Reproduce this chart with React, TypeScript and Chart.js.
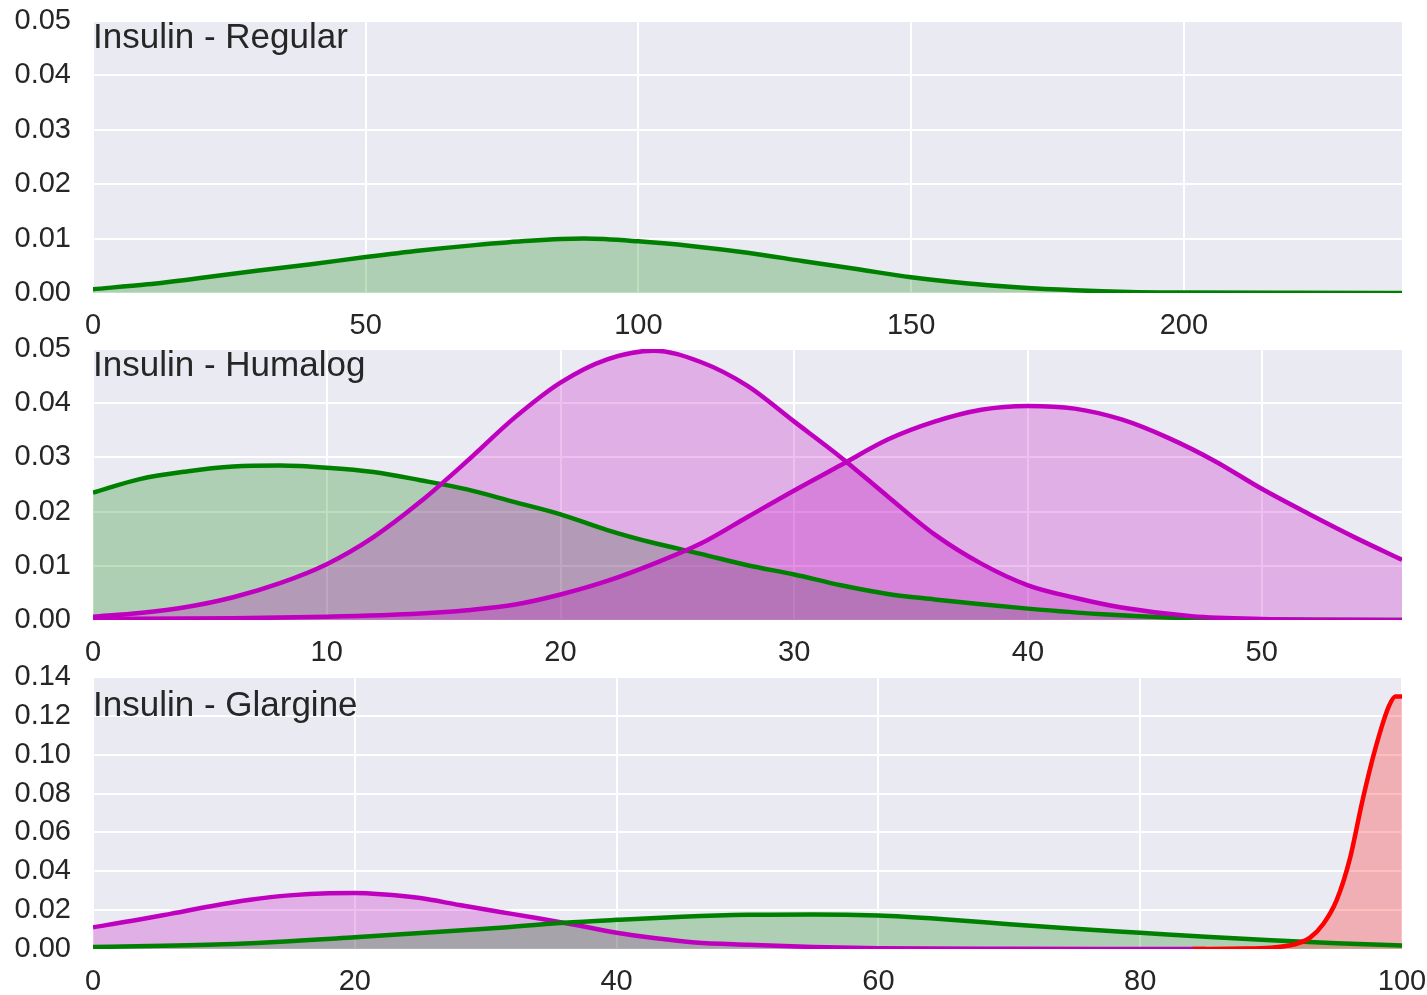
import React, { useEffect, useRef } from "react";
import { Chart, registerables } from "chart.js";

Chart.register(...registerables);

// ---------- DATA ----------
// Panel 1: Insulin - Regular
const regularTitle = "Insulin - Regular";
const regularXTicks = [0, 50, 100, 150, 200];
const regularYTicks = [0, 0.01, 0.02, 0.03, 0.04, 0.05];
const regularGreenX = [0, 10, 20, 30, 40, 50, 60, 70, 80, 90, 100, 110, 120, 130, 140, 150, 160, 170, 180, 190, 200, 220, 240];
const regularGreenY = [0.0007, 0.0016, 0.0028, 0.0041, 0.0053, 0.0066, 0.0078, 0.0088, 0.0096, 0.01, 0.0095, 0.0086, 0.0074, 0.0059, 0.0044, 0.0029, 0.0018, 0.001, 0.0005, 0.0002, 0.0001, 0.00003, 0.00001];

// Panel 2: Insulin - Humalog
const humalogTitle = "Insulin - Humalog";
const humalogXTicks = [0, 10, 20, 30, 40, 50];
const humalogYTicks = [0, 0.01, 0.02, 0.03, 0.04, 0.05];
const humalogGreenX = [0, 2, 4, 6, 8, 10, 12, 14, 16, 18, 20, 22, 24, 26, 28, 30, 32, 34, 36, 38, 40, 43, 47, 50, 56];
const humalogGreenY = [0.0235, 0.026, 0.0274, 0.0283, 0.0285, 0.0281, 0.0273, 0.0258, 0.0241, 0.0218, 0.0195, 0.0166, 0.0142, 0.0122, 0.0101, 0.0084, 0.0064, 0.0048, 0.0038, 0.0029, 0.0021, 0.0011, 0.0003, 0.0001, 0];
const humalogMagentaAX = [0, 2, 4, 6, 8, 10, 12, 14, 16, 18, 20, 22, 24, 26, 28, 30, 32, 34, 36, 38, 40, 42, 44, 47, 50, 56];
const humalogMagentaAY = [0.0006, 0.0013, 0.0024, 0.0042, 0.0068, 0.0103, 0.0153, 0.0218, 0.0293, 0.0372, 0.0438, 0.0481, 0.0497, 0.0476, 0.0432, 0.0366, 0.03, 0.0228, 0.0158, 0.0104, 0.0064, 0.0041, 0.0023, 0.0007, 0.0002, 0];
const humalogMagentaBX = [0, 6, 10, 14, 16, 18, 20, 22, 24, 26, 28, 30, 32, 34, 36, 38, 40, 42, 44, 46, 48, 50, 52, 54, 56];
const humalogMagentaBY = [0.0002, 0.0003, 0.0006, 0.0012, 0.0018, 0.0028, 0.0047, 0.0072, 0.0104, 0.0141, 0.019, 0.0239, 0.0286, 0.0333, 0.0366, 0.0388, 0.0395, 0.039, 0.037, 0.0336, 0.0293, 0.0242, 0.0196, 0.0152, 0.0111];

// Panel 3: Insulin - Glargine
const glargineTitle = "Insulin - Glargine";
const glargineXTicks = [0, 20, 40, 60, 80, 100];
const glargineYTicks = [0, 0.02, 0.04, 0.06, 0.08, 0.1, 0.12, 0.14];
const glargineMagentaX = [0, 3, 6, 9, 12, 15, 18, 20, 22, 25, 28, 31, 34, 37, 40, 43, 46, 50, 55, 60, 70, 85];
const glargineMagentaY = [0.0112, 0.0145, 0.0182, 0.022, 0.0253, 0.0276, 0.0287, 0.0288, 0.0282, 0.0262, 0.0226, 0.0192, 0.0158, 0.0122, 0.0084, 0.0055, 0.0034, 0.0022, 0.001, 0.0004, 0.0001, 0];
const glargineGreenX = [0, 10, 20, 30, 36, 40, 45, 50, 55, 60, 65, 70, 75, 80, 85, 90, 95, 100];
const glargineGreenY = [0.001, 0.0024, 0.006, 0.0104, 0.0135, 0.015, 0.0166, 0.0176, 0.0178, 0.0172, 0.0153, 0.0128, 0.0104, 0.0084, 0.0063, 0.0045, 0.003, 0.0018];
const glargineRedX = [84, 88, 90, 91, 92, 93, 94, 95, 96, 97, 98, 99, 99.5, 100];
const glargineRedY = [0, 0.0002, 0.0007, 0.0014, 0.0028, 0.006, 0.013, 0.025, 0.046, 0.077, 0.104, 0.125, 0.13, 0.13];

// ---------- STYLE ----------
const GREEN = "rgb(0,128,0)";
const GREEN_FILL = "rgba(0,128,0,0.25)";
const MAGENTA = "rgb(191,0,191)";
const MAGENTA_FILL = "rgba(191,0,191,0.25)";
const RED = "rgb(255,0,0)";
const RED_FILL = "rgba(255,0,0,0.25)";
const BG = "#EAEAF2";
const TEXT = "#262626";
const FONT = "'Liberation Sans', Arial, sans-serif";

const W = 1427;
const PLOT_LEFT = 93;
const PLOT_RIGHT = 1402;

type Series = { xs: number[]; ys: number[]; color: string; fill: string };
type PanelDef = {
  title: string;
  titleX: number;
  titleY: number;
  xMax: number;
  yMax: number;
  xTicks: number[];
  yTicks: number[];
  series: Series[]; // in drawing order (first drawn at bottom)
  canvasTop: number;
  canvasHeight: number;
  plotTop: number; // page coordinates
  plotBottom: number;
};

const panels: PanelDef[] = [
  {
    title: regularTitle, titleX: 0, titleY: 0.045, xMax: 240, yMax: 0.05,
    xTicks: regularXTicks, yTicks: regularYTicks,
    series: [{ xs: regularGreenX, ys: regularGreenY, color: GREEN, fill: GREEN_FILL }],
    canvasTop: 0, canvasHeight: 345, plotTop: 21, plotBottom: 293,
  },
  {
    title: humalogTitle, titleX: 0, titleY: 0.045, xMax: 56, yMax: 0.05,
    xTicks: humalogXTicks, yTicks: humalogYTicks,
    series: [
      { xs: humalogGreenX, ys: humalogGreenY, color: GREEN, fill: GREEN_FILL },
      { xs: humalogMagentaAX, ys: humalogMagentaAY, color: MAGENTA, fill: MAGENTA_FILL },
      { xs: humalogMagentaBX, ys: humalogMagentaBY, color: MAGENTA, fill: MAGENTA_FILL },
    ],
    canvasTop: 320, canvasHeight: 345, plotTop: 349, plotBottom: 620,
  },
  {
    title: glargineTitle, titleX: 0, titleY: 0.12, xMax: 100, yMax: 0.14,
    xTicks: glargineXTicks, yTicks: glargineYTicks,
    series: [
      { xs: glargineMagentaX, ys: glargineMagentaY, color: MAGENTA, fill: MAGENTA_FILL },
      { xs: glargineGreenX, ys: glargineGreenY, color: GREEN, fill: GREEN_FILL },
      { xs: glargineRedX, ys: glargineRedY, color: RED, fill: RED_FILL },
    ],
    canvasTop: 648, canvasHeight: 347, plotTop: 677, plotBottom: 949,
  },
];

function Panel({ def }: { def: PanelDef }) {
  const ref = useRef<HTMLCanvasElement | null>(null);
  useEffect(() => {
    if (!ref.current) return;
    const localTop = def.plotTop - def.canvasTop;
    const localBottom = def.plotBottom - def.canvasTop;
    const n = def.series.length;
    const bgPlugin = {
      id: "bg",
      beforeDraw(chart: any) {
        const { ctx, chartArea } = chart;
        ctx.save();
        ctx.fillStyle = BG;
        ctx.fillRect(chartArea.left, chartArea.top, chartArea.right - chartArea.left, chartArea.bottom - chartArea.top);
        ctx.restore();
      },
    };
    const titlePlugin = {
      id: "paneltitle",
      afterDatasetsDraw(chart: any) {
        const { ctx } = chart;
        const x = chart.scales.x.getPixelForValue(def.titleX);
        const y = chart.scales.y.getPixelForValue(def.titleY);
        ctx.save();
        ctx.font = `35px ${FONT}`;
        ctx.fillStyle = TEXT;
        ctx.textAlign = "left";
        ctx.textBaseline = "alphabetic";
        ctx.fillText(def.title, x, y);
        ctx.restore();
      },
    };
    const chart = new Chart(ref.current, {
      type: "line",
      data: {
        datasets: def.series.map((s, i) => ({
          data: s.xs.map((x, j) => ({ x, y: s.ys[j] })),
          borderColor: s.color,
          backgroundColor: s.fill,
          borderWidth: 4.5,
          pointRadius: 0,
          fill: "origin",
          cubicInterpolationMode: "monotone" as const,
          order: n - i,
        })),
      },
      options: {
        animation: false,
        responsive: false,
        devicePixelRatio: 1,
        layout: { padding: { left: 0, right: W - PLOT_RIGHT, top: localTop, bottom: 0 } },
        plugins: {
          legend: { display: false },
          tooltip: { enabled: false },
          filler: { drawTime: "beforeDatasetsDraw" },
        },
        scales: {
          x: {
            type: "linear",
            min: 0,
            max: def.xMax,
            afterBuildTicks: (scale: any) => {
              scale.ticks = def.xTicks.map((v) => ({ value: v }));
            },
            afterFit: (scale: any) => {
              scale.height = def.canvasHeight - localBottom;
              scale.paddingLeft = 0;
              scale.paddingRight = 0;
              scale.paddingTop = 0;
              scale.paddingBottom = 0;
            },
            grid: { color: "#ffffff", lineWidth: 2, drawTicks: false },
            border: { display: false },
            ticks: {
              padding: 16,
              color: TEXT,
              font: { family: FONT, size: 29 },
              maxRotation: 0,
              callback: (v: any) => String(v),
            },
          },
          y: {
            type: "linear",
            min: 0,
            max: def.yMax,
            afterBuildTicks: (scale: any) => {
              scale.ticks = def.yTicks.map((v) => ({ value: v }));
            },
            afterFit: (scale: any) => {
              scale.width = PLOT_LEFT;
              scale.paddingLeft = 0;
              scale.paddingRight = 0;
              scale.paddingTop = 0;
              scale.paddingBottom = 0;
            },
            grid: { color: "#ffffff", lineWidth: 2, drawTicks: false },
            border: { display: false },
            ticks: {
              padding: 22,
              color: TEXT,
              font: { family: FONT, size: 29 },
              callback: (v: any) => Number(v).toFixed(2),
            },
          },
        },
      },
      plugins: [bgPlugin, titlePlugin],
    } as any);
    return () => chart.destroy();
  }, [def]);
  return (
    <canvas
      ref={ref}
      width={W}
      height={def.canvasHeight}
      style={{ position: "absolute", left: 0, top: def.canvasTop, width: W, height: def.canvasHeight }}
    />
  );
}

export default function App() {
  return (
    <div style={{ position: "absolute", left: 0, top: 0, width: W, height: 995, background: "#ffffff" }}>
      {panels.map((p, i) => (
        <Panel key={i} def={p} />
      ))}
    </div>
  );
}
